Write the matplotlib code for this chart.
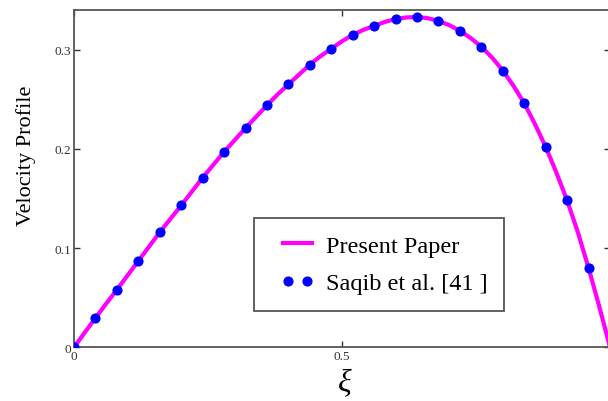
import matplotlib
matplotlib.use("Agg")
import matplotlib.pyplot as plt
from matplotlib.legend_handler import HandlerLine2D

# values
xi_points = [0.00, 0.04, 0.08, 0.12, 0.16, 0.20, 0.24, 0.28, 0.32, 0.36, 0.40, 0.44,
             0.48, 0.52, 0.56, 0.60, 0.64, 0.68, 0.72, 0.76, 0.80, 0.84, 0.88, 0.92, 0.96]
saqib = [0.000, 0.0295, 0.058, 0.087, 0.116, 0.143, 0.171, 0.197, 0.221, 0.244, 0.265, 0.285,
         0.301, 0.315, 0.324, 0.331, 0.333, 0.329, 0.319, 0.303, 0.279, 0.246, 0.202, 0.148, 0.080]

xi_line = [0.00, 0.02, 0.04, 0.06, 0.08, 0.10, 0.12, 0.14, 0.16, 0.18, 0.20, 0.22, 0.24,
           0.26, 0.28, 0.30, 0.32, 0.34, 0.36, 0.38, 0.40, 0.42, 0.44, 0.46, 0.48, 0.50,
           0.52, 0.54, 0.56, 0.58, 0.60, 0.62, 0.64, 0.66, 0.68, 0.70, 0.72, 0.74, 0.76,
           0.78, 0.80, 0.82, 0.84, 0.86, 0.88, 0.90, 0.92, 0.94, 0.96, 0.98, 1.00]
present = [0.000, 0.0148, 0.0295, 0.044, 0.058, 0.0725, 0.087, 0.1015, 0.116, 0.1295, 0.143,
           0.157, 0.171, 0.184, 0.197, 0.209, 0.221, 0.2325, 0.244, 0.255, 0.265, 0.275,
           0.285, 0.2935, 0.301, 0.3085, 0.315, 0.3200, 0.324, 0.328, 0.331, 0.3325, 0.333,
           0.3318, 0.329, 0.3248, 0.319, 0.3118, 0.303, 0.292, 0.279, 0.2635, 0.246, 0.225,
           0.202, 0.176, 0.148, 0.116, 0.080, 0.041, 0.000]

plt.rcParams["font.family"] = ["Liberation Serif", "DejaVu Serif"]

fig = plt.figure(figsize=(6.08, 4.02), dpi=100)
ax = fig.add_axes([0.1217, 0.1336, 0.8816, 0.839])

line, = ax.plot(xi_line, present, color="#FF00FF", lw=3, label="Present Paper", zorder=2)
dots, = ax.plot(xi_points, saqib, "o", color="#0000FF", ms=6.3, label="Saqib et al. [41 ]", zorder=3)

ax.set_xlim(0, 1)
ax.set_ylim(0, 0.34)
ax.set_xticks([0, 0.5])
ax.set_xticklabels(["0", "0.5"])
ax.set_yticks([0, 0.1, 0.2, 0.3])
ax.set_yticklabels(["0", "0.1", "0.2", "0.3"])
ax.tick_params(direction="in", length=4, width=1, color="#333333", labelsize=9.5,
               labelcolor="#333333", pad=2, right=True, top=True)

for s in ax.spines.values():
    s.set_color("#555555")
    s.set_linewidth(1.3)

ax.set_ylabel("Velocity Profile", fontsize=16)
ax.yaxis.set_label_coords(-0.0716, 0.57)
ax.set_xlabel("ξ", fontsize=23, style="italic")
ax.xaxis.set_label_coords(0.505, -0.060)

leg = ax.legend(loc="lower left", bbox_to_anchor=(0.3358, 0.1076), borderaxespad=0,
                fontsize=17.5, handlelength=2.22, handletextpad=0.06, borderpad=0.68,
                labelspacing=0.65, fancybox=False, framealpha=1, edgecolor="#555555",
                handler_map={line: HandlerLine2D(marker_pad=0.51, numpoints=2),
                             dots: HandlerLine2D(marker_pad=0.72, numpoints=2)})
leg.get_frame().set_linewidth(1.3)

fig.savefig("out.png", dpi=100)
